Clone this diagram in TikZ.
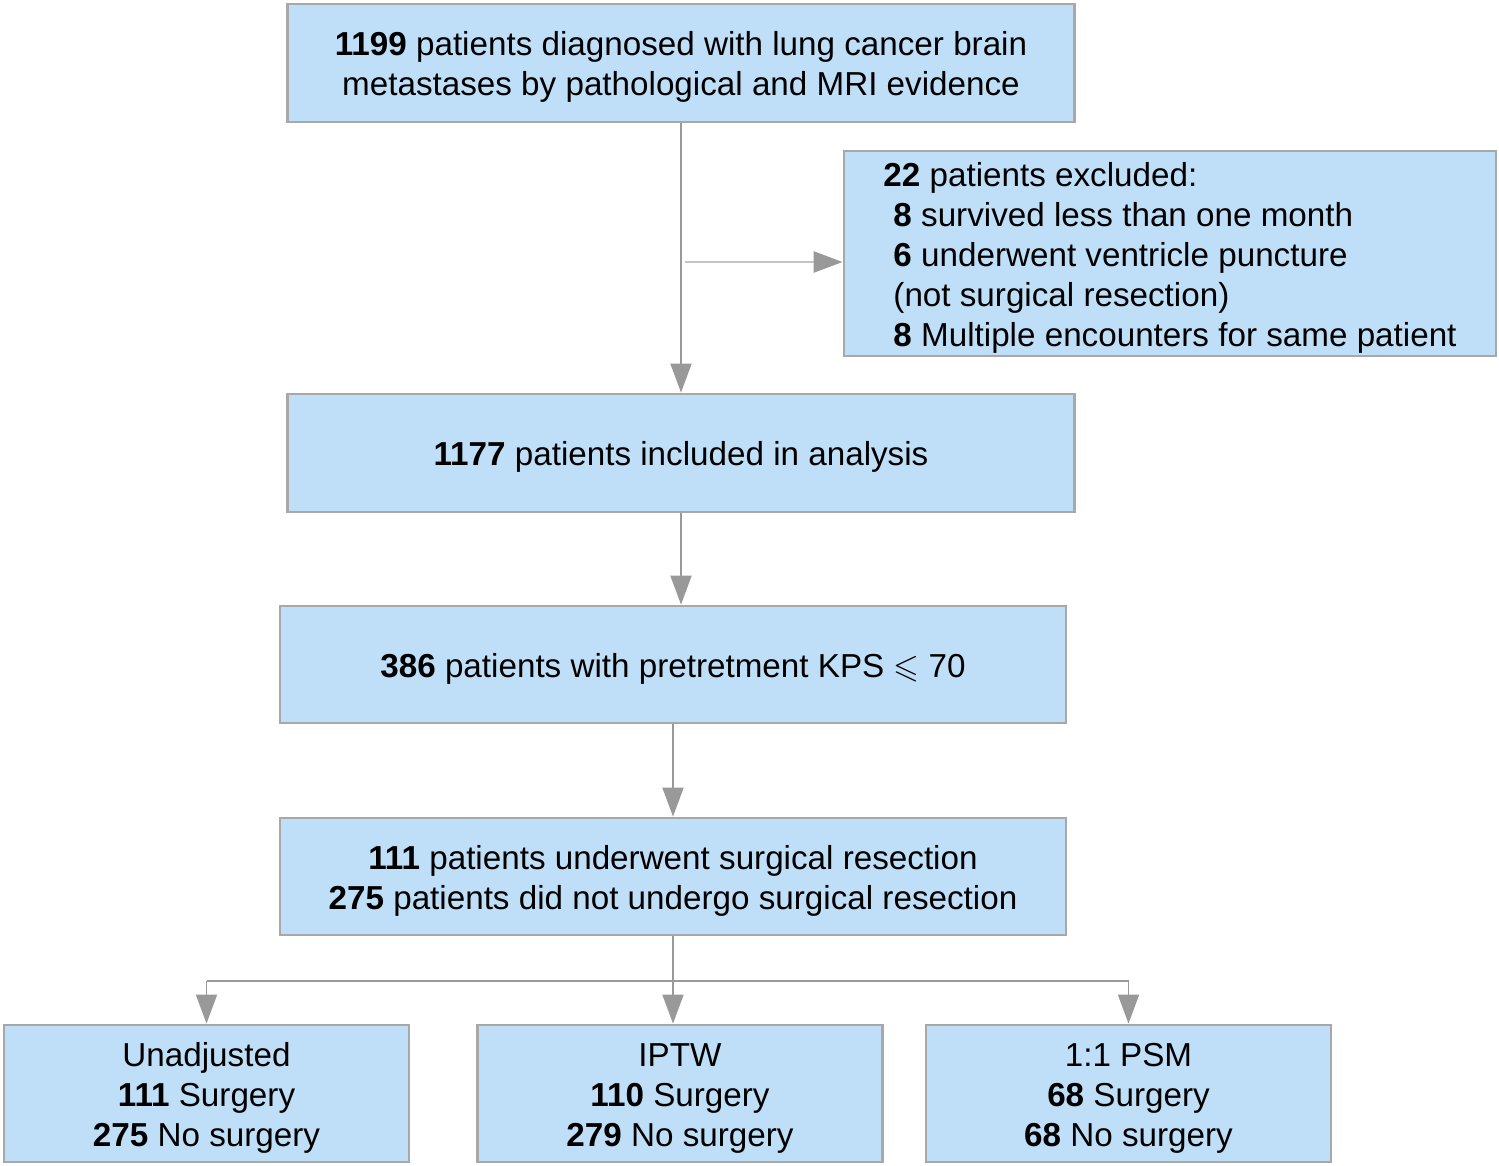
\documentclass[tikz,border=0pt]{standalone}
\usepackage{fontspec}
\setmainfont{Liberation Sans}
\usepackage{amssymb}
\usetikzlibrary{arrows.meta,calc,positioning}
\definecolor{boxblue}{HTML}{BEDFF7}
\definecolor{boxline}{HTML}{A8A8A8}
\definecolor{arrowgray}{HTML}{999999}
\definecolor{sidegray}{HTML}{C4C4C4}
\newcommand{\topgap}{\rule{0pt}{0.65cm}}
\tikzset{
    block/.style = {draw=boxline, line width=1.6pt, fill=boxblue, rectangle,
        minimum height=2.36cm,
        minimum width=15.74cm, align=center, inner sep=0pt,
        font=\fontsize{18.9}{22.8}\selectfont},
    lowblock/.style = {block, minimum height=2.74cm, minimum width=8.1cm},
    arrow/.style = {draw=arrowgray, line width=1.1pt, -{Triangle[length=0.58cm,width=0.42cm,color=arrowgray]}},
    line/.style = {draw=arrowgray, line width=1.1pt}
}

\begin{document}
\begin{tikzpicture}
        \useasboundingbox (0,0) rectangle (29.98,-23.32);
        \node [block] at (13.62,-1.26) (diag) {\topgap\textbf{1199} patients diagnosed with lung cancer brain\\metastases by pathological and MRI evidence};
        \node [block, below of=diag, node distance=7.8cm] (incl) {\topgap\textbf{1177} patients included in analysis};
        \node [block, minimum width=13.04cm, minimum height=4.1cm, align=left] at (23.4,-5.07) (excl) {\topgap\textbf{22} patients excluded:\\
            \hspace*{0.2cm}\textbf{8} survived less than one month\\
            \hspace*{0.2cm}\textbf{6} underwent ventricle puncture\\
            \hspace*{0.2cm}(not surgical resection)\\
            \hspace*{0.2cm}\textbf{8} Multiple encounters for same patient};
        \coordinate (split) at (13.7,-5.24);
        \draw[arrow] (diag) -- (incl);
        \draw[arrow, draw=sidegray, line width=1.5pt] (split) -- (split -| excl.west);
        \node [block, minimum width=15.72cm, minimum height=2.34cm] at (13.46,-13.29) (kps) {\topgap\textbf{386} patients with pretretment KPS $\leqslant$ 70};
        \draw[arrow] (incl.south) -- (incl.south |- kps.north);
        \node [block, minimum width=15.72cm, minimum height=2.34cm, below of=kps, node distance=4.24cm] (surg) {\topgap\textbf{111} patients underwent surgical resection\\\textbf{275} patients did not undergo surgical resection};
        \draw[arrow] (kps) -- (surg);
        % three analyses
        \node [lowblock] at (4.13,-21.87) (unadj) {\topgap Unadjusted\\\textbf{111} Surgery\\\textbf{275} No surgery};
        \node [lowblock] at (13.6,-21.87) (iptw) {\topgap IPTW\\\textbf{110} Surgery\\\textbf{279} No surgery};
        \node [lowblock] at (22.57,-21.87) (psm) {\topgap 1:1 PSM\\\textbf{68} Surgery\\\textbf{68} No surgery};
        \coordinate (fork) at ($(surg.south)+(0,-0.9)$);
        \draw[line] (surg.south) -- (fork);
        \draw[line] (unadj.north |- fork) -- (psm.north |- fork);
        \draw[arrow] (unadj.north |- fork) -- (unadj.north);
        \draw[arrow] (fork) -- (fork |- iptw.north);
        \draw[arrow] (psm.north |- fork) -- (psm.north);
    \end{tikzpicture}
\end{document}
